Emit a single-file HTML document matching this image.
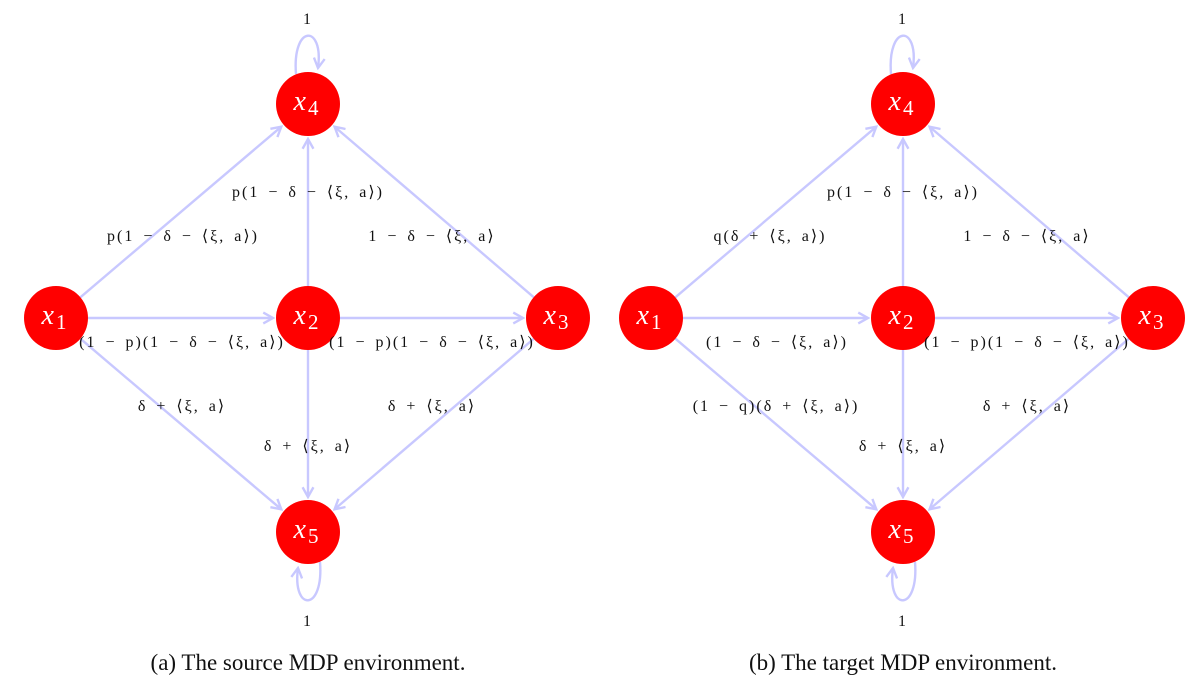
<!DOCTYPE html>
<html><head><meta charset="utf-8"><style>
html,body{margin:0;padding:0;background:#fff;}
svg{display:block;}
.lbl{font-family:"Liberation Serif",serif;font-size:16px;fill:#111;letter-spacing:2px;word-spacing:3px;}
.nd{font-family:"Liberation Serif",serif;font-style:italic;font-size:28px;fill:#fff;}
.cap{font-family:"Liberation Serif",serif;font-size:23px;fill:#111;}
</style></head><body>
<svg id="fig" width="1200" height="676" viewBox="0 0 1200 676">
<defs>
<marker id="arr" viewBox="0 0 12 12" refX="10" refY="6" markerWidth="13" markerHeight="13" markerUnits="userSpaceOnUse" orient="auto">
<path d="M1,1 L10,6 L1,11" fill="none" stroke="#c8c8ff" stroke-width="2.2"/>
</marker>
</defs>
<g id="edges"></g><g id="nodes"></g><g id="labels"></g>
<text class="cap" x="308" y="670" text-anchor="middle">(a)  The source MDP environment.</text>
<text class="cap" x="903" y="670" text-anchor="middle">(b)  The target MDP environment.</text>
</svg>
<script>
const offsets = [0, 595];
const nodeNames = ["x1","x2","x3","x4","x5"];
const nodeX = [56, 308, 558, 308, 308];
const nodeY = [318, 318, 318, 104, 532];
const edgeFrom = [0,1,2,0,1,0,1,2];
const edgeTo   = [3,3,3,1,2,4,4,4];
const labelsA = ["p(1 − δ − ⟨ξ, a⟩)","p(1 − δ − ⟨ξ, a⟩)","1 − δ − ⟨ξ, a⟩","(1 − p)(1 − δ − ⟨ξ, a⟩)","(1 − p)(1 − δ − ⟨ξ, a⟩)","δ + ⟨ξ, a⟩","δ + ⟨ξ, a⟩","δ + ⟨ξ, a⟩"];
const labelsB = ["q(δ + ⟨ξ, a⟩)","p(1 − δ − ⟨ξ, a⟩)","1 − δ − ⟨ξ, a⟩","(1 − δ − ⟨ξ, a⟩)","(1 − p)(1 − δ − ⟨ξ, a⟩)","(1 − q)(δ + ⟨ξ, a⟩)","δ + ⟨ξ, a⟩","δ + ⟨ξ, a⟩"];
const labelX = [183, 308, 432, 182, 432, 182, 308, 432];
const labelXB = [770, 903, 1027, 777, 1027, 776, 903, 1027];
const labelY = [241, 197, 241, 347, 347, 411, 451, 411];
const R = 32, NS = "http://www.w3.org/2000/svg";
const E = document.getElementById('edges'), N = document.getElementById('nodes'), L = document.getElementById('labels');
function mk(t, a){const e=document.createElementNS(NS,t);for(const k in a)e.setAttribute(k,a[k]);return e;}
offsets.forEach((ox, d) => {
  for (let i = 0; i < edgeFrom.length; i++) {
    const x1 = nodeX[edgeFrom[i]] + ox, y1 = nodeY[edgeFrom[i]];
    const x2 = nodeX[edgeTo[i]] + ox, y2 = nodeY[edgeTo[i]];
    const len = Math.hypot(x2-x1, y2-y1), ux = (x2-x1)/len, uy = (y2-y1)/len;
    const ln = mk('line',{x1:x1+ux*R,y1:y1+uy*R,x2:x2-ux*(R+3),y2:y2-uy*(R+3),stroke:'#c8c8ff','stroke-width':2.4,'marker-end':'url(#arr)'});
    
    
    E.appendChild(ln);
    const t = mk('text',{x: d ? labelXB[i] : labelX[i] + ox, y: labelY[i], 'text-anchor':'middle', class:'lbl'});
    t.textContent = d ? labelsB[i] : labelsA[i];
    
    
    L.appendChild(t);
  }
  const cx4 = nodeX[3] + ox, cy4 = nodeY[3];
  const lp1 = mk('path',{d:`M${cx4-12},${cy4-30} C${cx4-16},${cy4-80} ${cx4+16},${cy4-80} ${cx4+10},${cy4-36}`,fill:'none',stroke:'#c8c8ff','stroke-width':2.4,'marker-end':'url(#arr)'});
  
  
  E.appendChild(lp1);
  const cx5 = nodeX[4] + ox, cy5 = nodeY[4];
  const lp2 = mk('path',{d:`M${cx5+12},${cy5+30} C${cx5+16},${cy5+80} ${cx5-16},${cy5+80} ${cx5-10},${cy5+36}`,fill:'none',stroke:'#c8c8ff','stroke-width':2.4,'marker-end':'url(#arr)'});
  
  
  E.appendChild(lp2);
  [[cx4, 24],[cx5, 626]].forEach(p => {
    const t = mk('text',{x:p[0], y:p[1], 'text-anchor':'middle', class:'lbl'});
    t.textContent = '1';
    
    
    L.appendChild(t);
  });
  for (let j = 0; j < nodeNames.length; j++) {
    const c = mk('circle',{cx:nodeX[j]+ox, cy:nodeY[j], r:R, fill:'#ff0000'});
    
    
    N.appendChild(c);
    const t = mk('text',{x:nodeX[j]+ox-2, y:nodeY[j]+6, 'text-anchor':'middle', class:'nd'});
    t.textContent = 'x';
    const s = mk('tspan',{'font-style':'normal','font-size':'21','dy':'5','dx':'2'});
    s.textContent = String(j+1);
    t.appendChild(s);
    
    
    N.appendChild(t);
  }
});
</script>
</body></html>
